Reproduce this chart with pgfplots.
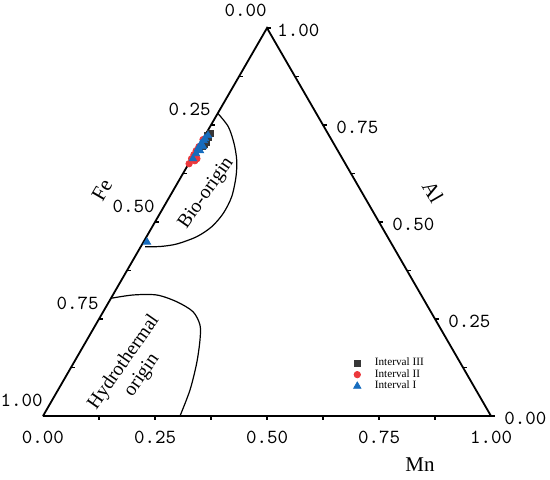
\documentclass[border=0pt]{standalone}
\usepackage{fontspec}
\setmainfont{Liberation Serif}
\usepackage{pgfplots}
\pgfplotsset{compat=1.18}
\usepackage{pgfplotstable}
\definecolor{myred}{RGB}{236,56,60}
\definecolor{myblue}{RGB}{22,108,190}
\definecolor{mydark}{RGB}{55,55,55}

% ternary data: Mn (bottom axis), Al (right axis); Fe = 1 - Mn - Al
\pgfplotstableread{
Mn Al
0.009 0.728
0.0095 0.7176
0.009 0.7098
0.0097 0.6995
0.0046 0.7228
0.0079 0.694
0.012 0.705
}\intIII
\pgfplotstableread{
Mn Al
0.001 0.6503
0.000 0.6632
0.000 0.6736
0.000 0.6839
0.001 0.6943
0.001 0.7124
0.010 0.658
0.012 0.6632
}\intII
\pgfplotstableread{
Mn Al
0.002 0.7021
0.004 0.7098
0.004 0.7150
0.0015 0.6891
0.010 0.6943
0.0034 0.6762
0.0085 0.6839
0.007 0.7228
0.003 0.6632
0.008 0.4482
}\intI

\begin{document}
\begin{tikzpicture}
\begin{axis}[
  scale only axis, width=275pt, height=240pt,
  xmin=-0.09598, xmax=1.13170, ymin=-0.142857, ymax=0.928571,
  hide axis, clip=false,
  legend cell align=left,
  legend image code/.code={\draw[mark repeat=2,mark phase=2] plot coordinates {(0cm,0cm)(0.15cm,0cm)(0.3cm,0cm)};},
  legend style={at={(axis cs:0.6925,0.140)}, anchor=north west, draw=none, fill=none,
    font=\fontsize{5.6}{6}\selectfont, text=black, row sep=-3.6pt, column sep=5pt, inner sep=0pt},
]
% triangle
\addplot[black, line width=0.9pt, line join=miter, forget plot] coordinates {(0,0)(1,0)(0.5,0.866)(0,0)};
% Bio-origin boundary
\addplot[black, line width=0.6pt, smooth, forget plot] coordinates {
(0.3901,0.6757)(0.4136,0.6458)(0.4263,0.6087)(0.4324,0.5714)(0.4308,0.5342)
(0.4212,0.4895)(0.4025,0.4525)(0.3766,0.4225)(0.3431,0.4002)(0.2984,0.3839)
(0.2612,0.3783)(0.228,0.378)};
% Hydrothermal boundary
\addplot[black, line width=0.6pt, smooth, forget plot] coordinates {
(0.1517,0.2627)(0.2009,0.2701)(0.2538,0.2701)(0.2984,0.2551)(0.3348,0.2328)
(0.3504,0.2031)(0.3504,0.1696)(0.3431,0.1183)(0.3281,0.0580)(0.3058,0)};

\addplot[only marks, mark=square*, mark size=1.5pt, mydark] table[x expr=\thisrow{Mn}+0.5*\thisrow{Al}, y expr=0.866*\thisrow{Al}] {\intIII};
\addlegendentry{Interval III}
\addplot[only marks, mark=*, mark size=1.6pt, myred] table[x expr=\thisrow{Mn}+0.5*\thisrow{Al}, y expr=0.866*\thisrow{Al}] {\intII};
\addlegendentry{Interval II}
\addplot[only marks, mark=triangle*, mark size=2.1pt, myblue] table[x expr=\thisrow{Mn}+0.5*\thisrow{Al}, y expr=0.866*\thisrow{Al}] {\intI};
\addlegendentry{Interval I}

% ticks
\pgfplotsinvokeforeach{0.125,0.25,0.375,0.5,0.625,0.75,0.875}{
  \draw[line width=0.6pt] (axis cs:#1,0) -- ++(0pt,-2pt);
}
\draw[line width=0.6pt] (axis cs:0.0625,0.10825) -- ++(2pt,0pt);
\draw[line width=0.6pt] (axis cs:0.125,0.2165) -- ++(2pt,0pt);
\draw[line width=0.6pt] (axis cs:0.1875,0.32475) -- ++(2pt,0pt);
\draw[line width=0.6pt] (axis cs:0.25,0.433) -- ++(2pt,0pt);
\draw[line width=0.6pt] (axis cs:0.3125,0.54125) -- ++(2pt,0pt);
\draw[line width=0.6pt] (axis cs:0.375,0.6495) -- ++(2pt,0pt);
\draw[line width=0.6pt] (axis cs:0.4375,0.75775) -- ++(2pt,0pt);
\draw[line width=0.6pt] (axis cs:0.9375,0.10825) -- ++(2pt,0pt);
\draw[line width=0.6pt] (axis cs:0.875,0.2165) -- ++(2pt,0pt);
\draw[line width=0.6pt] (axis cs:0.8125,0.32475) -- ++(2pt,0pt);
\draw[line width=0.6pt] (axis cs:0.75,0.433) -- ++(2pt,0pt);
\draw[line width=0.6pt] (axis cs:0.6875,0.54125) -- ++(2pt,0pt);
\draw[line width=0.6pt] (axis cs:0.625,0.6495) -- ++(2pt,0pt);
\draw[line width=0.6pt] (axis cs:0.5625,0.75775) -- ++(2pt,0pt);
\draw[line width=0.6pt] (axis cs:0.5,0.866) -- ++(2pt,0pt);
\draw[line width=0.6pt] (axis cs:1,0) -- ++(2pt,0pt);

% tick labels
\tikzset{tl/.style={font=\fontsize{10}{12}\ttfamily, inner sep=0pt}}
\node[tl] at (axis cs:0,-0.047) {0.00};
\node[tl] at (axis cs:0.25,-0.047) {0.25};
\node[tl] at (axis cs:0.5,-0.047) {0.50};
\node[tl] at (axis cs:0.75,-0.047) {0.75};
\node[tl] at (axis cs:1,-0.047) {1.00};
\node[tl, anchor=east, yshift=8pt] at (axis cs:0,0) {1.00};
\node[tl, anchor=east, yshift=8pt] at (axis cs:0.125,0.2165) {0.75};
\node[tl, anchor=east, yshift=8pt] at (axis cs:0.25,0.433) {0.50};
\node[tl, anchor=east, yshift=8pt] at (axis cs:0.375,0.6495) {0.25};
\node[tl, anchor=east, yshift=9pt] at (axis cs:0.5,0.866) {0.00};
\node[tl, anchor=west, xshift=6.5pt, yshift=-1pt] at (axis cs:1,0) {0.00};
\node[tl, anchor=west, xshift=6.5pt, yshift=-1pt] at (axis cs:0.875,0.2165) {0.25};
\node[tl, anchor=west, xshift=6.5pt, yshift=-1pt] at (axis cs:0.75,0.433) {0.50};
\node[tl, anchor=west, xshift=6.5pt, yshift=-1pt] at (axis cs:0.625,0.6495) {0.75};
\node[tl, anchor=west, xshift=5pt, yshift=-1pt] at (axis cs:0.5,0.866) {1.00};

% axis names
\node[font=\fontsize{10.5}{12}\selectfont] at (axis cs:0.8415,-0.1094) {Mn};
\node[font=\fontsize{10.5}{12}\selectfont, rotate=60] at (axis cs:0.1317,0.5045) {Fe};
\node[font=\fontsize{10.5}{12}\selectfont, rotate=-60] at (axis cs:0.8705,0.5) {Al};

% region names
\node[font=\fontsize{9.8}{11}\selectfont, rotate=55] at (axis cs:0.3650,0.497) {Bio-origin};
\node[font=\fontsize{9.8}{11}\selectfont, rotate=55, align=center] at (axis cs:0.2009,0.1049) {Hydrothermal\\origin};

\coordinate (ll) at (rel axis cs:0,0);
\coordinate (ur) at (rel axis cs:1,1);
\end{axis}
\pgfresetboundingbox
\path[use as bounding box] (ll) rectangle (ur);
\end{tikzpicture}
\end{document}
